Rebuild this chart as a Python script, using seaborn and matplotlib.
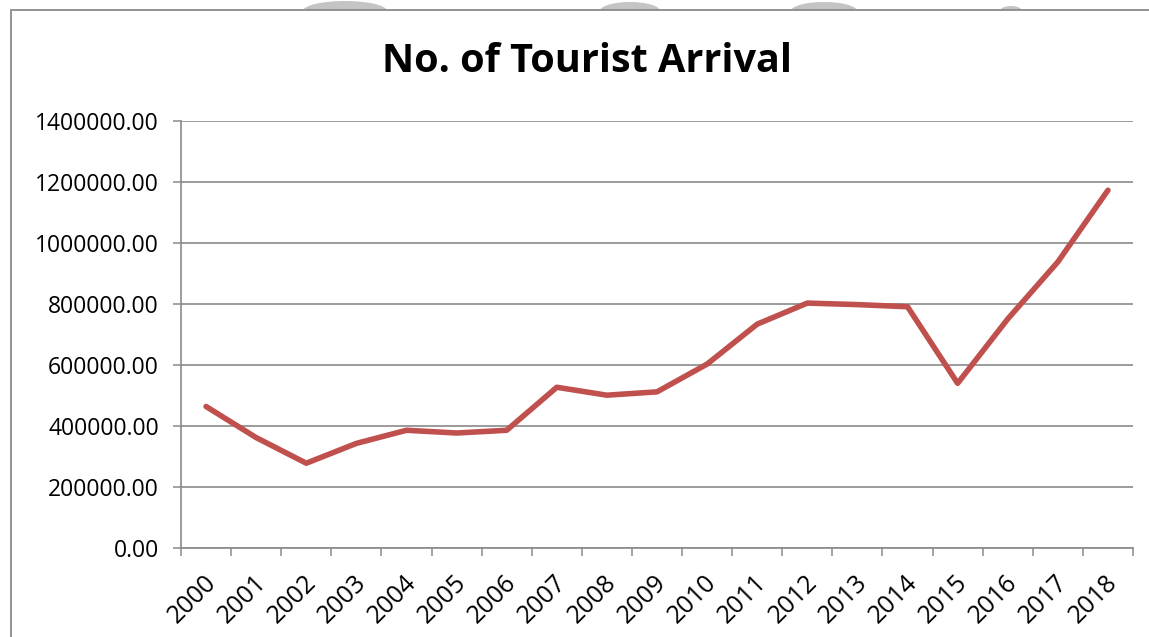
import matplotlib
matplotlib.use("Agg")
import matplotlib.pyplot as plt
from matplotlib.patches import Ellipse, Rectangle
from matplotlib.ticker import FixedLocator, FuncFormatter, NullFormatter
from matplotlib.transforms import ScaledTranslation
import seaborn as sns
import pandas as pd

# Tourist arrivals per year
years = ["2000", "2001", "2002", "2003", "2004", "2005", "2006", "2007", "2008", "2009",
         "2010", "2011", "2012", "2013", "2014", "2015", "2016", "2017", "2018"]
arrivals = [464000, 362000, 278000, 343000, 386000, 377000, 386000, 527000, 501000, 512000,
            603000, 734000, 803000, 798000, 791000, 540000, 751000, 938000, 1173000]
y_ticks = [0, 200000, 400000, 600000, 800000, 1000000, 1200000, 1400000]

df = pd.DataFrame({"year": years, "arrivals": arrivals})

sns.set_theme(style="white")
plt.rcParams["font.family"] = ["Open Sans", "DejaVu Sans"]

W, H = 1149, 637
fig = plt.figure(figsize=(W / 100, H / 100), dpi=100)


def px(x, y):
    return x / W, 1 - y / H


# faint grey shapes peeking above the chart frame
for cx, wd, ht in [(345, 84, 20), (630, 60, 18), (824, 66, 18), (1011, 22, 10)]:
    fig.add_artist(Ellipse(px(cx, 11), wd / W, ht / H, transform=fig.transFigure,
                           facecolor="#c4c4c4", edgecolor="none", zorder=0))

# chart frame
x0, y0 = px(11, 10)
fig.add_artist(Rectangle((x0, -0.05), 1.2, y0 + 0.05, transform=fig.transFigure,
                         facecolor="white", edgecolor="#8a8a8a", linewidth=1.3, zorder=1))

left, top = px(181, 121)
right, bottom = px(1133, 548)
ax = fig.add_axes([left, bottom, right - left, top - bottom], zorder=2)
ax.set_facecolor("none")

sns.lineplot(data=df, x="year", y="arrivals", ax=ax, color="#C0504D",
             linewidth=4.0, solid_joinstyle="round", solid_capstyle="round", sort=False)

n = len(years)
ax.set_xlim(-0.5, n - 0.5)
ax.set_ylim(0, 1400000)

# y axis
ax.set_yticks(y_ticks)
ax.yaxis.set_major_formatter(FuncFormatter(lambda v, p: f"{v:.2f}"))
ax.tick_params(axis="y", which="major", length=6, width=1.1, color="#8a8a8a",
               labelsize=16.5, labelcolor="black", pad=10, left=True)
ax.grid(axis="y", color="#8a8a8a", linewidth=1.2)
ax.grid(axis="x", visible=False)

# x axis: tick marks on category boundaries, labels at category centres
ax.xaxis.set_major_locator(FixedLocator([i - 0.5 for i in range(n + 1)]))
ax.xaxis.set_major_formatter(NullFormatter())
ax.xaxis.set_minor_locator(FixedLocator(list(range(n))))
ax.set_xticklabels(years, minor=True)
ax.tick_params(axis="x", which="major", length=6, width=1.1, color="#8a8a8a",
               bottom=True, direction="out")
ax.tick_params(axis="x", which="minor", length=0, labelsize=18, labelcolor="black", pad=22)
shift = ScaledTranslation(6 / 100, 0, fig.dpi_scale_trans)
for lbl in ax.get_xticklabels(minor=True):
    lbl.set_rotation(45)
    lbl.set_ha("right")
    lbl.set_va("center")
    lbl.set_rotation_mode("anchor")
    lbl.set_transform(lbl.get_transform() + shift)

for side in ["top", "right"]:
    ax.spines[side].set_visible(False)
for side in ["left", "bottom"]:
    ax.spines[side].set_color("#8a8a8a")
    ax.spines[side].set_linewidth(1.2)

ax.set_xlabel("")
ax.set_ylabel("")

tx, ty = px(587, 61)
fig.text(tx, ty, "No. of Tourist Arrival", ha="center", va="center",
         fontsize=28.5, fontweight="bold", color="black", zorder=3)

fig.savefig("out.png", dpi=100)
